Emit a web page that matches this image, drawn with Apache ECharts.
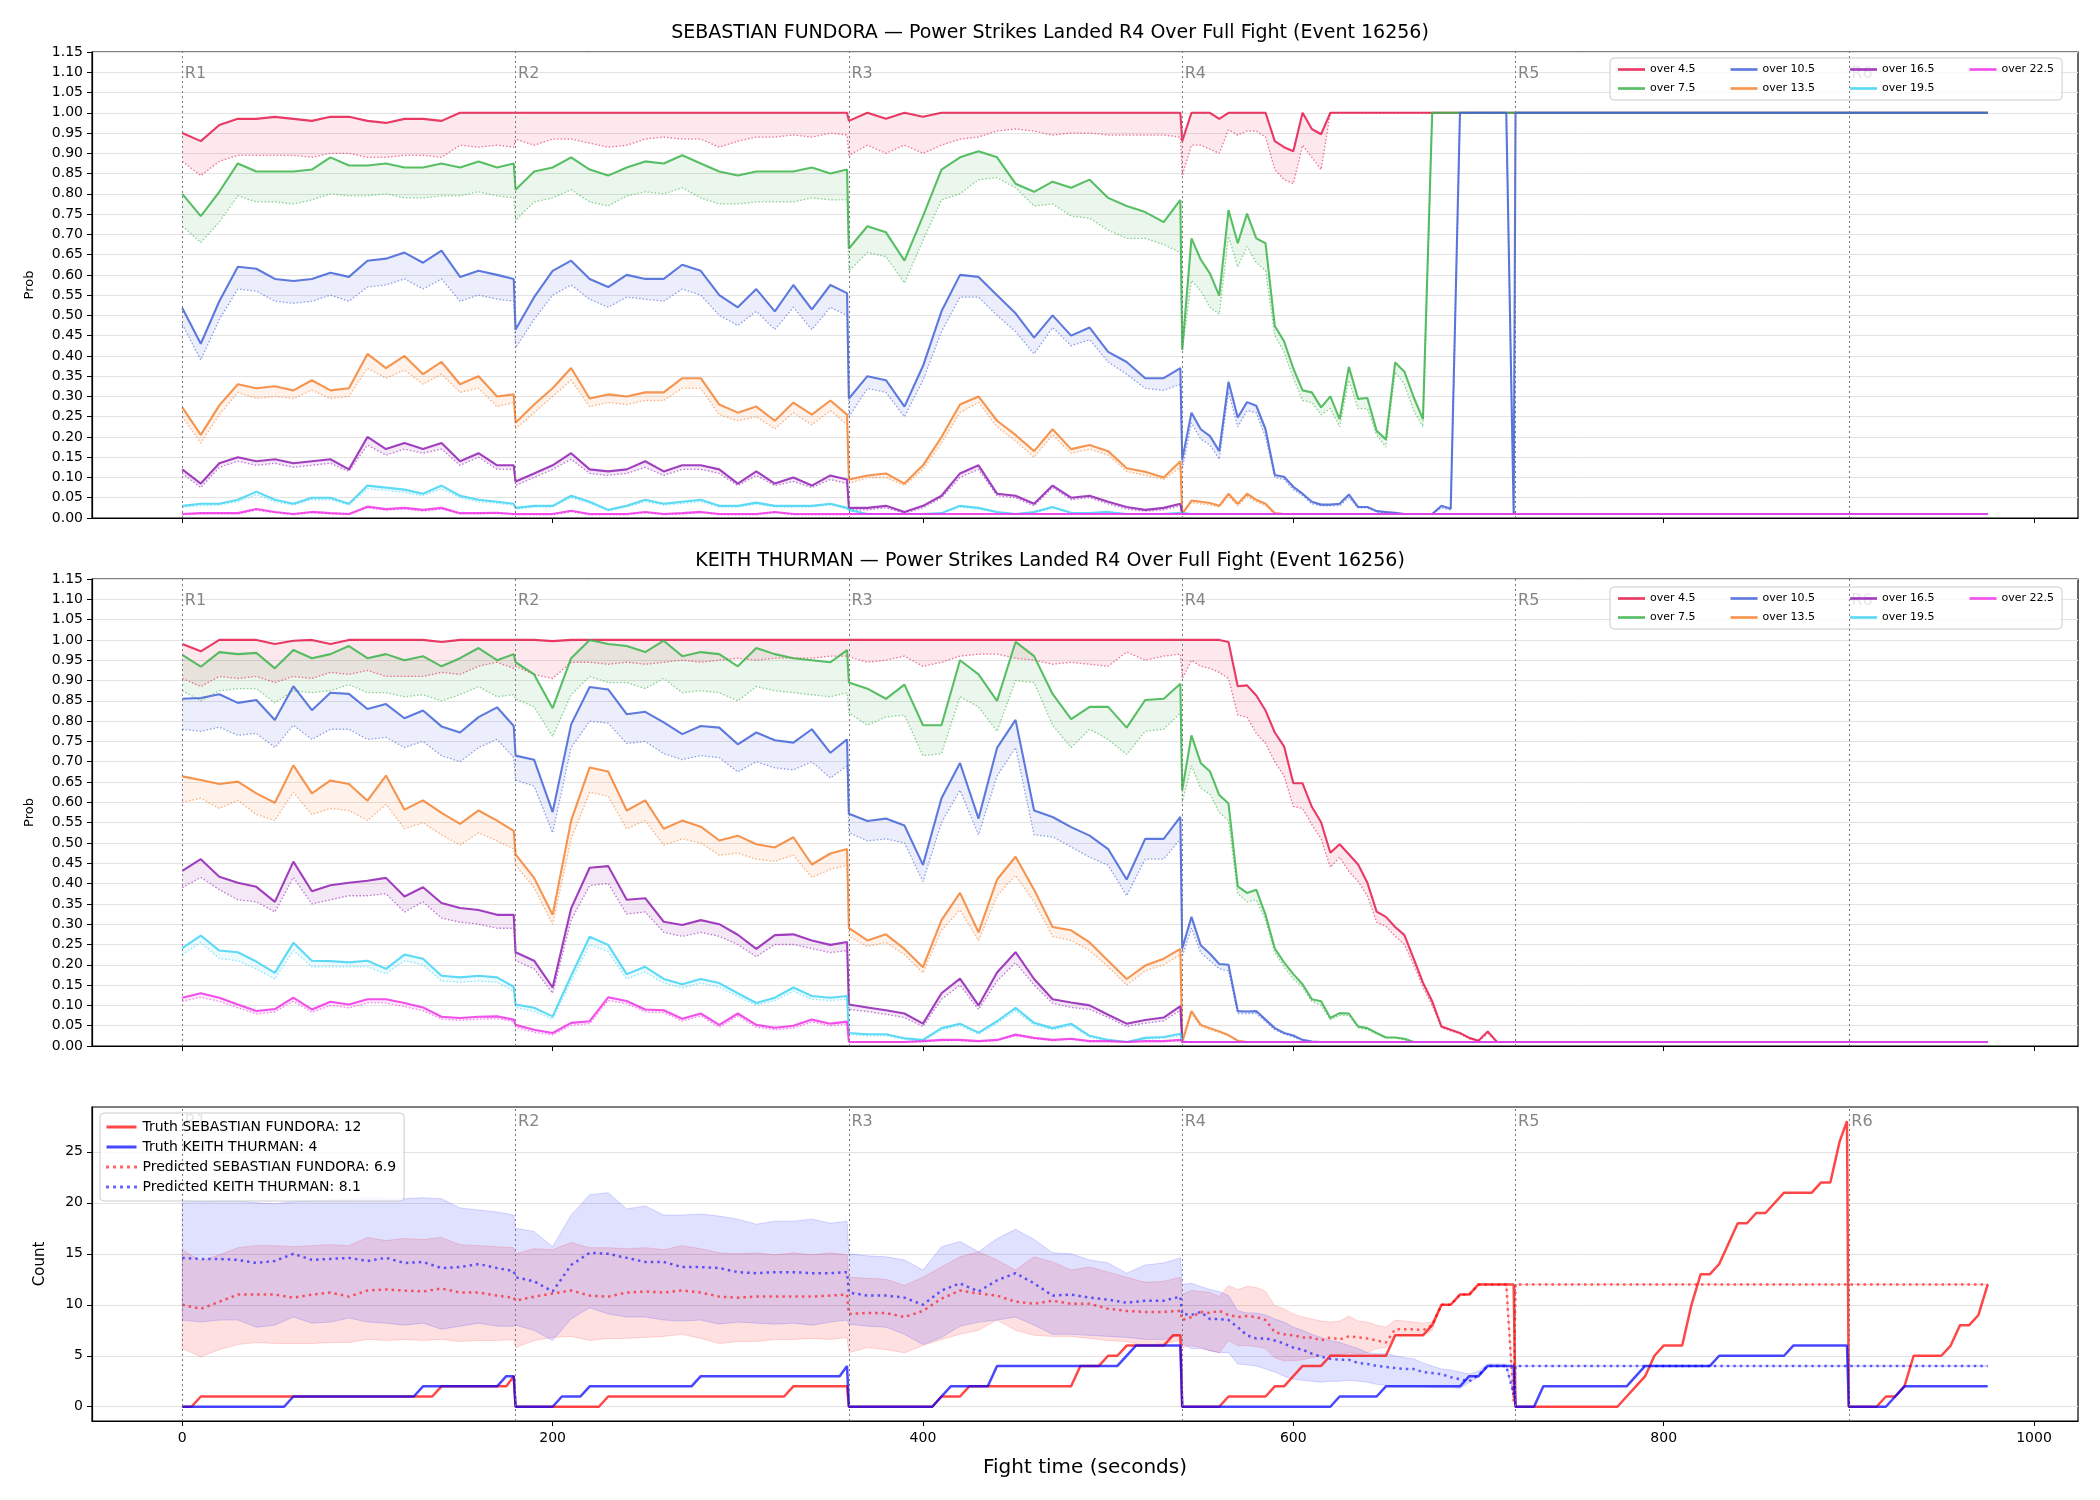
<!DOCTYPE html>
<html>
<head>
<meta charset="utf-8">
<title>Power Strikes Landed R4 Over Full Fight</title>
<script src="https://cdn.jsdelivr.net/npm/echarts@6/dist/echarts.min.js"></script>
<style>
html, body { margin: 0; padding: 0; background: #fff; }
#chart { width: 2100px; height: 1500px; }
</style>
</head>
<body>
<div id="chart"></div>
<script>
// sample times (s): 10 s steps in R1-R3, 5 s steps in R4, then the fixed tail
var times = [
  0,10,20,30,40,50,60,70,80,90,100,110,120,130,140,150,160,170,179,
  180,190,200,210,220,230,240,250,260,270,280,290,300,310,320,330,340,350,359,
  360,370,380,390,400,410,420,430,440,450,460,470,480,490,500,510,520,530,539,
  540,545,550,555,560,565,570,575,580,585,590,595,600,605,610,615,620,625,630,635,
  640,645,650,655,660,665,670,675,680,685,690,695,700,705,710,715,719,
  720,975
];
var rounds = [0, 180, 360, 540, 720, 900];
var roundNames = ['R1', 'R2', 'R3', 'R4', 'R5', 'R6'];
var thresholds = ['over 4.5', 'over 7.5', 'over 10.5', 'over 13.5', 'over 16.5', 'over 19.5', 'over 22.5'];
var colors = ['#e6194b', '#3cb44b', '#4363d8', '#f58231', '#911eb4', '#42d4f4', '#f032e6'];
var xTicks = [0, 200, 400, 600, 800, 1000];
var countTicks = [0, 5, 10, 15, 20, 25];

// ---- SEBASTIAN FUNDORA: probability (solid) and lower (dotted) per threshold ----
var f45 = [
  0.95,0.93,0.97,0.985,0.985,0.99,0.985,0.98,0.99,0.99,0.98,0.975,0.985,0.985,0.98,1,1,1,1,
  1,1,1,1,1,1,1,1,1,1,1,1,1,1,1,1,1,1,1,
  0.98,1,0.985,1,0.99,1,1,1,1,1,1,1,1,1,1,1,1,1,1,
  0.93,1,1,1,0.985,1,1,1,1,1,
  0.93,0.915,0.905,1,0.96,0.947,1,1,1,1,
  1,1,1,1,1,1,1,1,1,1,
  1,1,1,1,1,1,1,
  1,1];
var f45lo = [
  0.88,0.845,0.88,0.895,0.895,0.895,0.895,0.89,0.9,0.9,0.89,0.89,0.895,0.895,0.89,0.92,0.915,0.92,0.915,
  0.935,0.92,0.935,0.935,0.925,0.915,0.92,0.935,0.94,0.935,0.935,0.915,0.93,0.94,0.94,0.945,0.94,0.95,0.945,
  0.895,0.92,0.9,0.92,0.9,0.92,0.935,0.94,0.955,0.96,0.955,0.945,0.95,0.95,0.945,0.945,0.945,0.945,0.94,
  0.845,0.92,0.92,0.91,0.9,0.958,0.945,0.955,0.955,0.94,
  0.86,0.835,0.825,0.92,0.89,0.86,1,1,1,1,
  1,1,1,1,1,1,1,1,1,1,
  1,1,1,1,1,1,1,
  1,1];
var f75 = [
  0.80,0.745,0.805,0.875,0.855,0.855,0.855,0.86,0.89,0.87,0.87,0.875,0.865,0.865,0.875,0.865,0.88,0.865,0.875,
  0.81,0.855,0.865,0.89,0.86,0.845,0.865,0.88,0.875,0.895,0.875,0.855,0.845,0.855,0.855,0.855,0.865,0.85,0.86,
  0.665,0.72,0.705,0.635,0.745,0.86,0.89,0.905,0.89,0.825,0.805,0.83,0.815,0.835,0.79,0.77,0.755,0.73,0.785,
  0.415,0.69,0.638,0.603,0.549,0.76,0.678,0.751,0.69,0.678,
  0.474,0.436,0.369,0.315,0.31,0.273,0.30,0.244,0.373,0.294,
  0.296,0.215,0.194,0.384,0.361,0.298,0.244,1,1,1,
  1,1,1,1,1,1,1,
  1,1];
var f75lo = [
  0.72,0.68,0.73,0.795,0.78,0.78,0.775,0.785,0.80,0.795,0.795,0.80,0.79,0.79,0.795,0.795,0.805,0.795,0.79,
  0.735,0.78,0.79,0.81,0.78,0.77,0.795,0.805,0.80,0.815,0.79,0.775,0.775,0.78,0.78,0.78,0.79,0.785,0.785,
  0.61,0.655,0.645,0.58,0.685,0.785,0.80,0.835,0.84,0.815,0.77,0.775,0.745,0.74,0.71,0.69,0.69,0.675,0.655,
  0.415,0.586,0.56,0.52,0.503,0.695,0.62,0.67,0.63,0.61,
  0.45,0.41,0.345,0.29,0.285,0.255,0.27,0.225,0.34,0.27,
  0.27,0.205,0.175,0.36,0.33,0.265,0.225,1,1,1,
  1,1,1,1,1,1,1,
  1,1];
var f105 = [
  0.518,0.43,0.535,0.62,0.615,0.59,0.585,0.59,0.605,0.595,0.635,0.64,0.655,0.63,0.66,0.595,0.61,0.60,0.59,
  0.465,0.545,0.61,0.635,0.59,0.57,0.60,0.59,0.59,0.625,0.61,0.55,0.52,0.565,0.51,0.575,0.515,0.575,0.555,
  0.295,0.35,0.34,0.275,0.375,0.51,0.60,0.595,0.55,0.505,0.445,0.50,0.45,0.47,0.41,0.385,0.345,0.345,0.37,
  0.144,0.26,0.219,0.202,0.165,0.336,0.248,0.286,0.277,0.219,
  0.106,0.102,0.077,0.06,0.04,0.033,0.033,0.035,0.058,0.027,
  0.027,0.017,0.015,0.013,0.01,0.01,0.01,0.01,0.03,0.023,
  1,1,1,1,1,1,0.01,
  1,1];
var f105lo = [
  0.478,0.39,0.49,0.565,0.56,0.535,0.53,0.535,0.55,0.535,0.57,0.575,0.59,0.565,0.59,0.535,0.55,0.54,0.535,
  0.42,0.49,0.55,0.575,0.54,0.52,0.545,0.54,0.535,0.565,0.55,0.50,0.475,0.51,0.465,0.52,0.465,0.52,0.50,
  0.25,0.32,0.31,0.25,0.34,0.46,0.545,0.545,0.50,0.46,0.405,0.47,0.425,0.44,0.385,0.355,0.32,0.315,0.33,
  0.12,0.235,0.195,0.18,0.145,0.31,0.225,0.265,0.26,0.2,
  0.10,0.095,0.07,0.055,0.035,0.03,0.03,0.03,0.05,0.025,
  0.025,0.015,0.013,0.012,0.01,0.01,0.01,0.01,0.025,0.02,
  1,1,1,1,1,1,0.01,
  1,1];
var f135 = [
  0.273,0.205,0.278,0.33,0.32,0.325,0.315,0.34,0.315,0.32,0.405,0.37,0.40,0.355,0.385,0.33,0.35,0.30,0.305,
  0.235,0.28,0.32,0.37,0.295,0.305,0.30,0.31,0.31,0.345,0.345,0.28,0.26,0.275,0.24,0.285,0.255,0.29,0.255,
  0.095,0.105,0.11,0.085,0.13,0.20,0.28,0.30,0.24,0.205,0.165,0.219,0.17,0.18,0.165,0.123,0.114,0.10,0.14,
  0.01,0.043,0.04,0.037,0.03,0.06,0.035,0.06,0.045,0.035,
  0.012,0.01,0.01,0.01,0.01,0.01,0.01,0.01,0.01,0.01,
  0.01,0.01,0.01,0.01,0.01,0.01,0.01,0.01,0.01,0.01,
  0.01,0.01,0.01,0.01,0.01,0.01,0.01,
  0.01,0.01];
var f135lo = [
  0.25,0.185,0.255,0.31,0.295,0.30,0.295,0.315,0.295,0.30,0.37,0.345,0.365,0.33,0.355,0.31,0.32,0.275,0.285,
  0.22,0.26,0.30,0.34,0.275,0.285,0.28,0.29,0.29,0.32,0.32,0.255,0.24,0.25,0.22,0.26,0.23,0.265,0.23,
  0.085,0.10,0.10,0.08,0.12,0.185,0.26,0.285,0.225,0.19,0.15,0.205,0.16,0.17,0.155,0.115,0.105,0.095,0.125,
  0.01,0.038,0.035,0.032,0.027,0.053,0.03,0.053,0.04,0.03,
  0.01,0.01,0.01,0.01,0.01,0.01,0.01,0.01,0.01,0.01,
  0.01,0.01,0.01,0.01,0.01,0.01,0.01,0.01,0.01,0.01,
  0.01,0.01,0.01,0.01,0.01,0.01,0.01,
  0.01,0.01];
var f165 = [
  0.12,0.085,0.135,0.15,0.14,0.145,0.135,0.14,0.145,0.12,0.20,0.17,0.185,0.17,0.185,0.14,0.16,0.13,0.13,
  0.09,0.11,0.13,0.16,0.12,0.115,0.12,0.14,0.115,0.13,0.13,0.12,0.085,0.115,0.085,0.10,0.08,0.105,0.095,
  0.025,0.025,0.03,0.015,0.03,0.055,0.11,0.13,0.06,0.055,0.035,0.08,0.05,0.055,0.04,0.027,0.02,0.025,0.035,
  0.01,0.01,0.01,0.01,0.01,0.01,0.01,0.01,0.01,0.01,
  0.01,0.01,0.01,0.01,0.01,0.01,0.01,0.01,0.01,0.01,
  0.01,0.01,0.01,0.01,0.01,0.01,0.01,0.01,0.01,0.01,
  0.01,0.01,0.01,0.01,0.01,0.01,0.01,
  0.01,0.01];
var f165lo = [
  0.11,0.075,0.125,0.14,0.13,0.135,0.125,0.13,0.135,0.115,0.18,0.155,0.17,0.16,0.17,0.13,0.15,0.12,0.12,
  0.08,0.10,0.12,0.145,0.11,0.105,0.11,0.125,0.105,0.12,0.12,0.11,0.08,0.105,0.08,0.09,0.075,0.095,0.085,
  0.02,0.02,0.025,0.012,0.025,0.05,0.10,0.12,0.055,0.05,0.03,0.075,0.045,0.05,0.035,0.022,0.017,0.02,0.03,
  0.01,0.01,0.01,0.01,0.01,0.01,0.01,0.01,0.01,0.01,
  0.01,0.01,0.01,0.01,0.01,0.01,0.01,0.01,0.01,0.01,
  0.01,0.01,0.01,0.01,0.01,0.01,0.01,0.01,0.01,0.01,
  0.01,0.01,0.01,0.01,0.01,0.01,0.01,
  0.01,0.01];
var f195 = [
  0.03,0.035,0.035,0.045,0.065,0.045,0.035,0.05,0.05,0.035,0.08,0.075,0.07,0.06,0.08,0.055,0.045,0.04,0.035,
  0.025,0.03,0.03,0.055,0.04,0.02,0.03,0.045,0.035,0.04,0.045,0.03,0.03,0.038,0.03,0.03,0.03,0.035,0.025,
  0.02,0.01,0.01,0.01,0.01,0.012,0.03,0.025,0.015,0.01,0.015,0.027,0.013,0.012,0.015,0.01,0.01,0.01,0.013,
  0.01,0.01,0.01,0.01,0.01,0.01,0.01,0.01,0.01,0.01,
  0.01,0.01,0.01,0.01,0.01,0.01,0.01,0.01,0.01,0.01,
  0.01,0.01,0.01,0.01,0.01,0.01,0.01,0.01,0.01,0.01,
  0.01,0.01,0.01,0.01,0.01,0.01,0.01,
  0.01,0.01];
var f195lo = [
  0.027,0.03,0.032,0.04,0.058,0.04,0.032,0.045,0.045,0.032,0.072,0.068,0.063,0.055,0.072,0.05,0.04,0.036,0.032,
  0.022,0.027,0.027,0.05,0.036,0.018,0.027,0.04,0.032,0.036,0.04,0.027,0.027,0.034,0.027,0.027,0.027,0.032,0.022,
  0.018,0.01,0.01,0.01,0.01,0.011,0.027,0.022,0.013,0.01,0.013,0.024,0.012,0.011,0.013,0.01,0.01,0.01,0.012,
  0.01,0.01,0.01,0.01,0.01,0.01,0.01,0.01,0.01,0.01,
  0.01,0.01,0.01,0.01,0.01,0.01,0.01,0.01,0.01,0.01,
  0.01,0.01,0.01,0.01,0.01,0.01,0.01,0.01,0.01,0.01,
  0.01,0.01,0.01,0.01,0.01,0.01,0.01,
  0.01,0.01];
var f225 = [
  0.01,0.012,0.012,0.012,0.022,0.015,0.01,0.015,0.012,0.01,0.028,0.022,0.025,0.02,0.025,0.012,0.012,0.013,0.01,
  0.01,0.01,0.01,0.018,0.01,0.01,0.01,0.015,0.01,0.012,0.015,0.01,0.01,0.01,0.015,0.01,0.01,0.01,0.01,
  0.01,0.01,0.01,0.01,0.01,0.01,0.01,0.01,0.01,0.01,0.01,0.01,0.01,0.01,0.01,0.01,0.01,0.01,0.01,
  0.01,0.01,0.01,0.01,0.01,0.01,0.01,0.01,0.01,0.01,
  0.01,0.01,0.01,0.01,0.01,0.01,0.01,0.01,0.01,0.01,
  0.01,0.01,0.01,0.01,0.01,0.01,0.01,0.01,0.01,0.01,
  0.01,0.01,0.01,0.01,0.01,0.01,0.01,
  0.01,0.01];
var f225lo = [
  0.008,0.01,0.01,0.01,0.019,0.013,0.008,0.013,0.01,0.008,0.025,0.019,0.022,0.017,0.022,0.01,0.01,0.011,0.008,
  0.008,0.008,0.008,0.015,0.008,0.008,0.008,0.013,0.008,0.01,0.013,0.008,0.008,0.008,0.013,0.008,0.008,0.008,0.008,
  0.01,0.01,0.01,0.01,0.01,0.01,0.01,0.01,0.01,0.01,0.01,0.01,0.01,0.01,0.01,0.01,0.01,0.01,0.01,
  0.01,0.01,0.01,0.01,0.01,0.01,0.01,0.01,0.01,0.01,
  0.01,0.01,0.01,0.01,0.01,0.01,0.01,0.01,0.01,0.01,
  0.01,0.01,0.01,0.01,0.01,0.01,0.01,0.01,0.01,0.01,
  0.01,0.01,0.01,0.01,0.01,0.01,0.01,
  0.01,0.01];

// ---- KEITH THURMAN ----
var t45 = [
  0.99,0.972,1,1,1,0.99,0.998,1,0.99,1,1,1,1,1,0.995,1,1,1,1,
  1,1,0.997,1,1,1,1,1,1,1,1,1,1,1,1,1,1,1,1,
  1,1,1,1,1,1,1,1,1,1,1,1,1,1,1,1,1,1,1,
  1,1,1,1,1,0.995,0.886,0.888,0.863,0.826,
  0.772,0.738,0.647,0.647,0.589,0.551,0.476,0.497,0.472,0.447,
  0.402,0.331,0.318,0.293,0.273,0.215,0.156,0.11,0.048,0.04,
  0.032,0.02,0.013,0.036,0.01,0.01,0.01,
  0.01,0.01];
var t45lo = [
  0.905,0.885,0.91,0.905,0.91,0.895,0.91,0.905,0.92,0.915,0.925,0.91,0.91,0.91,0.92,0.915,0.935,0.945,0.93,
  0.935,0.915,0.905,0.945,0.945,0.94,0.945,0.94,0.945,0.95,0.945,0.95,0.955,0.95,0.955,0.955,0.955,0.96,0.96,
  0.96,0.945,0.95,0.96,0.935,0.945,0.96,0.965,0.965,0.955,0.95,0.94,0.945,0.94,0.935,0.97,0.95,0.96,0.965,
  0.905,0.95,0.935,0.93,0.92,0.905,0.815,0.81,0.77,0.745,
  0.70,0.665,0.59,0.585,0.545,0.51,0.44,0.465,0.43,0.405,
  0.37,0.305,0.295,0.27,0.25,0.2,0.145,0.10,0.045,0.037,
  0.03,0.018,0.012,0.03,0.01,0.01,0.01,
  0.01,0.01];
var t75 = [
  0.963,0.934,0.97,0.965,0.968,0.93,0.975,0.955,0.965,0.985,0.955,0.965,0.95,0.96,0.935,0.955,0.98,0.95,0.965,
  0.945,0.915,0.832,0.955,1.0,0.99,0.985,0.97,0.998,0.96,0.97,0.965,0.935,0.98,0.965,0.955,0.95,0.945,0.975,
  0.895,0.88,0.855,0.89,0.79,0.79,0.95,0.915,0.85,0.995,0.96,0.867,0.805,0.835,0.835,0.784,0.852,0.855,0.892,
  0.63,0.765,0.697,0.676,0.618,0.597,0.393,0.377,0.385,0.323,
  0.24,0.206,0.177,0.152,0.115,0.11,0.069,0.081,0.08,0.048,
  0.044,0.032,0.021,0.021,0.018,0.01,0.01,0.01,0.01,0.01,
  0.01,0.01,0.01,0.01,0.01,0.01,0.01,
  0.01,0.01];
var t75lo = [
  0.875,0.85,0.875,0.88,0.88,0.845,0.875,0.87,0.875,0.89,0.87,0.87,0.86,0.865,0.85,0.865,0.885,0.86,0.865,
  0.855,0.835,0.762,0.865,0.91,0.895,0.895,0.88,0.905,0.87,0.875,0.87,0.85,0.885,0.875,0.87,0.865,0.86,0.87,
  0.82,0.79,0.81,0.815,0.715,0.72,0.86,0.835,0.775,0.9,0.895,0.79,0.735,0.78,0.755,0.718,0.775,0.78,0.82,
  0.6,0.69,0.635,0.62,0.575,0.555,0.375,0.355,0.36,0.31,
  0.23,0.195,0.165,0.145,0.11,0.10,0.065,0.075,0.075,0.045,
  0.04,0.03,0.02,0.02,0.015,0.01,0.01,0.01,0.01,0.01,
  0.01,0.01,0.01,0.01,0.01,0.01,0.01,
  0.01,0.01];
var t105 = [
  0.855,0.857,0.866,0.845,0.852,0.803,0.886,0.827,0.87,0.867,0.83,0.842,0.807,0.826,0.787,0.772,0.81,0.834,0.788,
  0.715,0.705,0.576,0.792,0.884,0.878,0.817,0.823,0.797,0.768,0.788,0.784,0.743,0.772,0.753,0.747,0.78,0.722,0.755,
  0.572,0.554,0.56,0.543,0.446,0.61,0.697,0.56,0.734,0.803,0.58,0.564,0.539,0.518,0.485,0.41,0.51,0.51,0.564,
  0.24,0.318,0.248,0.227,0.202,0.2,0.086,0.085,0.086,0.065,
  0.044,0.032,0.026,0.015,0.011,0.01,0.01,0.01,0.01,0.01,
  0.01,0.01,0.01,0.01,0.01,0.01,0.01,0.01,0.01,0.01,
  0.01,0.01,0.01,0.01,0.01,0.01,0.01,
  0.01,0.01];
var t105lo = [
  0.78,0.775,0.785,0.765,0.77,0.735,0.79,0.755,0.78,0.78,0.755,0.76,0.735,0.75,0.715,0.70,0.735,0.755,0.71,
  0.655,0.64,0.525,0.735,0.80,0.795,0.745,0.75,0.72,0.705,0.715,0.71,0.675,0.70,0.685,0.68,0.70,0.66,0.69,
  0.525,0.505,0.51,0.50,0.405,0.55,0.63,0.52,0.665,0.735,0.52,0.515,0.49,0.465,0.445,0.37,0.46,0.46,0.51,
  0.22,0.29,0.23,0.21,0.19,0.185,0.08,0.08,0.08,0.06,
  0.04,0.03,0.022,0.013,0.01,0.01,0.01,0.01,0.01,0.01,
  0.01,0.01,0.01,0.01,0.01,0.01,0.01,0.01,0.01,0.01,
  0.01,0.01,0.01,0.01,0.01,0.01,0.01,
  0.01,0.01];
var t135 = [
  0.664,0.655,0.645,0.651,0.622,0.599,0.691,0.622,0.654,0.645,0.604,0.666,0.582,0.605,0.574,0.547,0.58,0.555,0.53,
  0.472,0.414,0.323,0.555,0.686,0.676,0.58,0.605,0.535,0.555,0.54,0.506,0.518,0.497,0.489,0.514,0.447,0.474,0.485,
  0.291,0.26,0.275,0.239,0.194,0.31,0.377,0.28,0.41,0.466,0.385,0.293,0.285,0.255,0.21,0.165,0.198,0.215,0.239,
  0.01,0.086,0.052,0.044,0.036,0.027,0.013,0.01,0.01,0.01,
  0.01,0.01,0.01,0.01,0.01,0.01,0.01,0.01,0.01,0.01,
  0.01,0.01,0.01,0.01,0.01,0.01,0.01,0.01,0.01,0.01,
  0.01,0.01,0.01,0.01,0.01,0.01,0.01,
  0.01,0.01];
var t135lo = [
  0.60,0.61,0.585,0.605,0.57,0.555,0.625,0.57,0.585,0.58,0.555,0.595,0.535,0.55,0.52,0.495,0.525,0.505,0.485,
  0.445,0.39,0.30,0.51,0.625,0.615,0.535,0.555,0.495,0.51,0.50,0.47,0.475,0.46,0.455,0.47,0.415,0.435,0.445,
  0.27,0.245,0.255,0.225,0.18,0.285,0.335,0.26,0.37,0.42,0.355,0.27,0.26,0.235,0.195,0.15,0.185,0.20,0.225,
  0.01,0.08,0.048,0.04,0.033,0.025,0.012,0.01,0.01,0.01,
  0.01,0.01,0.01,0.01,0.01,0.01,0.01,0.01,0.01,0.01,
  0.01,0.01,0.01,0.01,0.01,0.01,0.01,0.01,0.01,0.01,
  0.01,0.01,0.01,0.01,0.01,0.01,0.01,
  0.01,0.01];
var t165 = [
  0.431,0.46,0.417,0.402,0.392,0.355,0.454,0.381,0.396,0.402,0.407,0.414,0.368,0.391,0.352,0.34,0.335,0.323,0.323,
  0.231,0.21,0.144,0.339,0.439,0.443,0.36,0.364,0.306,0.298,0.31,0.30,0.274,0.239,0.273,0.275,0.26,0.249,0.256,
  0.102,0.095,0.088,0.08,0.055,0.13,0.166,0.10,0.181,0.231,0.165,0.115,0.107,0.10,0.077,0.055,0.064,0.07,0.098,
  0.01,0.01,0.01,0.01,0.01,0.01,0.01,0.01,0.01,0.01,
  0.01,0.01,0.01,0.01,0.01,0.01,0.01,0.01,0.01,0.01,
  0.01,0.01,0.01,0.01,0.01,0.01,0.01,0.01,0.01,0.01,
  0.01,0.01,0.01,0.01,0.01,0.01,0.01,
  0.01,0.01];
var t165lo = [
  0.39,0.415,0.385,0.36,0.355,0.33,0.415,0.35,0.36,0.37,0.37,0.375,0.33,0.355,0.315,0.305,0.30,0.29,0.29,
  0.21,0.19,0.13,0.31,0.395,0.40,0.325,0.33,0.28,0.27,0.28,0.27,0.25,0.22,0.25,0.25,0.24,0.23,0.235,
  0.09,0.085,0.078,0.07,0.048,0.115,0.15,0.09,0.16,0.205,0.15,0.105,0.095,0.09,0.07,0.048,0.056,0.062,0.088,
  0.01,0.01,0.01,0.01,0.01,0.01,0.01,0.01,0.01,0.01,
  0.01,0.01,0.01,0.01,0.01,0.01,0.01,0.01,0.01,0.01,
  0.01,0.01,0.01,0.01,0.01,0.01,0.01,0.01,0.01,0.01,
  0.01,0.01,0.01,0.01,0.01,0.01,0.01,
  0.01,0.01];
var t195 = [
  0.241,0.272,0.235,0.231,0.208,0.18,0.254,0.21,0.209,0.206,0.21,0.19,0.225,0.215,0.173,0.169,0.173,0.169,0.146,
  0.102,0.094,0.073,0.173,0.269,0.249,0.177,0.195,0.165,0.152,0.165,0.155,0.13,0.106,0.119,0.144,0.123,0.119,0.123,
  0.032,0.029,0.029,0.019,0.015,0.044,0.055,0.033,0.061,0.094,0.057,0.044,0.055,0.025,0.015,0.01,0.02,0.022,0.03,
  0.01,0.01,0.01,0.01,0.01,0.01,0.01,0.01,0.01,0.01,
  0.01,0.01,0.01,0.01,0.01,0.01,0.01,0.01,0.01,0.01,
  0.01,0.01,0.01,0.01,0.01,0.01,0.01,0.01,0.01,0.01,
  0.01,0.01,0.01,0.01,0.01,0.01,0.01,
  0.01,0.01];
var t195lo = [
  0.225,0.255,0.215,0.21,0.19,0.165,0.235,0.195,0.195,0.195,0.195,0.178,0.21,0.20,0.16,0.157,0.16,0.157,0.135,
  0.095,0.085,0.066,0.16,0.25,0.232,0.165,0.182,0.155,0.143,0.155,0.145,0.122,0.10,0.112,0.135,0.115,0.112,0.115,
  0.028,0.025,0.025,0.016,0.012,0.04,0.05,0.029,0.056,0.087,0.052,0.04,0.05,0.022,0.012,0.01,0.017,0.019,0.026,
  0.01,0.01,0.01,0.01,0.01,0.01,0.01,0.01,0.01,0.01,
  0.01,0.01,0.01,0.01,0.01,0.01,0.01,0.01,0.01,0.01,
  0.01,0.01,0.01,0.01,0.01,0.01,0.01,0.01,0.01,0.01,
  0.01,0.01,0.01,0.01,0.01,0.01,0.01,
  0.01,0.01];
var t225 = [
  0.119,0.13,0.119,0.102,0.086,0.091,0.119,0.09,0.109,0.102,0.115,0.115,0.106,0.095,0.072,0.069,0.072,0.073,0.065,
  0.052,0.04,0.032,0.057,0.061,0.12,0.111,0.09,0.088,0.067,0.08,0.052,0.08,0.052,0.045,0.05,0.065,0.055,0.06,
  0.01,0.01,0.01,0.01,0.012,0.015,0.015,0.012,0.015,0.028,0.02,0.015,0.018,0.012,0.012,0.01,0.012,0.012,0.015,
  0.01,0.01,0.01,0.01,0.01,0.01,0.01,0.01,0.01,0.01,
  0.01,0.01,0.01,0.01,0.01,0.01,0.01,0.01,0.01,0.01,
  0.01,0.01,0.01,0.01,0.01,0.01,0.01,0.01,0.01,0.01,
  0.01,0.01,0.01,0.01,0.01,0.01,0.01,
  0.01,0.01];
var t225lo = [
  0.11,0.12,0.11,0.094,0.079,0.084,0.11,0.083,0.10,0.094,0.106,0.106,0.097,0.087,0.066,0.063,0.066,0.067,0.06,
  0.046,0.034,0.027,0.051,0.055,0.112,0.104,0.084,0.082,0.061,0.074,0.046,0.074,0.046,0.04,0.044,0.059,0.049,0.054,
  0.01,0.01,0.01,0.01,0.011,0.013,0.013,0.011,0.013,0.025,0.018,0.013,0.016,0.011,0.011,0.01,0.011,0.011,0.013,
  0.01,0.01,0.01,0.01,0.01,0.01,0.01,0.01,0.01,0.01,
  0.01,0.01,0.01,0.01,0.01,0.01,0.01,0.01,0.01,0.01,
  0.01,0.01,0.01,0.01,0.01,0.01,0.01,0.01,0.01,0.01,
  0.01,0.01,0.01,0.01,0.01,0.01,0.01,
  0.01,0.01];

// ---- count panel: predicted means and bands (same times) ----
var predFundora = [
  10.0,9.6,10.3,11.0,11.0,11.0,10.7,11.0,11.2,10.8,11.4,11.5,11.4,11.3,11.6,11.2,11.2,10.9,10.7,
  10.4,10.8,11.1,11.4,10.9,10.8,11.2,11.3,11.2,11.4,11.2,10.8,10.7,10.8,10.8,10.8,10.8,10.9,11.0,
  9.1,9.2,9.2,8.8,9.4,10.6,11.4,11.1,10.9,10.3,10.1,10.4,10.1,10.1,9.6,9.4,9.3,9.3,9.4,
  8.5,8.8,9.3,9.2,9.4,9.0,8.8,8.9,8.8,8.5,
  7.3,7.1,7.0,6.8,6.8,6.5,6.8,6.6,6.9,6.8,
  6.7,6.5,6.3,7.6,7.6,7.6,7.5,8.0,10.0,10.0,
  11.0,11.0,12.0,12.0,12.0,12.0,0.5,
  12,12];
var predThurman = [
  14.6,14.5,14.5,14.4,14.1,14.3,15.0,14.4,14.5,14.6,14.3,14.6,14.1,14.2,13.6,13.7,14.0,13.6,13.3,
  12.7,12.3,11.3,13.9,15.1,15.0,14.6,14.2,14.2,13.7,13.7,13.6,13.2,13.1,13.2,13.2,13.1,13.1,13.2,
  11.2,10.9,10.9,10.7,10.0,11.4,12.1,11.3,12.4,13.1,12.1,10.9,11.0,10.7,10.5,10.2,10.4,10.4,10.8,
  9.1,9.0,9.3,8.6,8.6,8.5,7.8,7.0,6.7,6.7,
  6.5,6.2,5.8,5.6,5.2,4.9,4.7,4.6,4.6,4.3,
  4.2,4.0,3.9,3.8,3.7,3.7,3.4,3.3,3.2,2.9,
  2.7,2.5,3.1,4.0,4.0,4.0,1.2,
  4,4];
var fundoraHi = [
  15.4,14.3,14.9,15.6,15.8,15.8,15.7,15.8,15.9,15.8,16.6,16.3,16.5,16.4,16.6,15.9,15.8,15.7,15.6,
  15.0,15.5,15.4,16.1,15.6,15.6,15.5,15.6,15.4,15.8,15.5,15.1,15.0,15.1,14.9,15.1,14.9,15.1,14.9,
  12.7,12.6,12.5,11.9,12.7,13.7,14.7,15.2,14.4,13.4,14.7,14.2,13.4,13.7,13.2,12.7,12.2,12.3,12.7,
  11.0,11.4,11.3,11.2,10.8,11.9,11.5,11.8,11.7,11.3,
  9.9,9.6,9.1,8.8,8.6,8.4,8.3,8.4,8.9,8.4,
  8.3,8.0,7.8,8.5,8.4,8.3,8.2,8.3,10.0,10.0,
  11.0,11.0,12.0,12.0,12.0,12.0,0.5,
  12,12];
var fundoraLo = [
  5.7,4.9,5.6,6.1,6.3,6.2,6.2,6.2,6.3,6.3,6.6,6.5,6.6,6.5,6.6,6.4,6.5,6.5,6.6,
  5.8,6.5,6.8,6.9,6.5,6.7,6.7,6.8,6.9,7.1,6.7,6.2,6.4,6.4,6.6,6.6,6.7,6.6,6.8,
  5.3,5.8,5.6,5.3,6.0,6.6,7.1,7.5,8.5,7.5,7.0,6.9,6.9,6.7,6.5,6.4,6.0,6.2,6.5,
  5.8,6.0,5.8,5.5,5.3,6.5,6.0,6.0,5.9,5.7,
  4.8,4.5,4.5,4.6,4.8,5.0,5.1,5.1,5.3,5.2,
  5.3,5.7,5.8,7.0,7.0,7.0,7.0,7.5,10.0,10.0,
  11.0,11.0,12.0,12.0,12.0,12.0,0.5,
  12,12];
var thurmanHi = [
  20.3,20.1,20.2,20.2,20.0,19.9,20.1,20.2,20.3,20.3,20.5,20.4,20.4,20.5,20.4,19.5,19.3,19.1,18.8,
  17.5,17.2,15.7,18.8,20.8,21.0,19.4,19.7,18.8,18.8,18.9,18.7,18.4,17.9,18.2,18.2,18.4,18.0,18.2,
  15.0,14.8,14.7,14.4,13.4,15.7,16.2,15.2,16.5,17.4,16.4,15.1,15.0,14.4,14.1,13.1,13.9,14.1,14.6,
  12.0,12.1,11.8,11.5,11.3,10.9,9.4,9.2,9.2,9.0,
  8.6,8.3,7.8,7.5,7.1,6.8,6.5,6.3,6.0,5.7,
  5.3,5.2,5.2,5.0,4.8,4.7,4.3,4.0,3.7,3.6,
  3.4,3.2,3.5,4.2,4.2,4.2,1.2,
  4,4];
var thurmanLo = [
  8.5,8.3,8.5,8.5,7.8,8.0,8.8,8.2,8.3,8.7,8.3,8.2,8.0,8.2,7.6,7.9,8.2,7.9,7.9,
  8.0,7.5,6.5,8.6,9.7,9.1,8.8,8.8,8.5,8.4,8.5,8.1,8.3,8.2,8.1,8.2,8.0,8.3,8.5,
  8.1,7.9,7.8,7.1,6.1,6.8,7.9,8.3,8.5,8.8,8.0,7.1,7.1,7.0,6.9,6.8,6.6,6.6,7.0,
  6.2,5.7,5.7,5.5,5.3,5.3,4.2,4.1,4.0,3.7,
  3.4,3.0,2.7,2.6,2.5,2.4,2.5,2.5,2.6,2.5,
  2.4,2.2,2.1,2.0,2.0,2.0,1.95,1.9,1.9,1.9,
  1.8,2.4,2.9,4.0,4.0,4.0,1.2,
  4,4];

// truth running counts, [time, count] at the change points
var truthFundora = [
  [0,0],[5,0],[10,1],[135,1],[140,2],[175,2],[179,3],
  [180,0],[225,0],[230,1],[325,1],[330,2],[359,2],
  [360,0],[405,0],[410,1],[420,1],[425,2],[480,2],[485,4],[495,4],[500,5],[505,5],[510,6],[530,6],[535,7],[539,7],
  [540,0],[560,0],[565,1],[585,1],[590,2],[595,2],[605,4],[615,4],[620,5],[650,5],[655,7],[670,7],[675,8],[680,10],
  [685,10],[690,11],[695,11],[700,12],[719,12],
  [720,0],[775,0],[780,1],[785,2],[790,3],[795,5],[800,6],[810,6],[815,10],[820,13],[825,13],[830,14],[840,18],
  [845,18],[850,19],[855,19],[865,21],[880,21],[885,22],[890,22],[895,26],[899,28],
  [900,0],[915,0],[920,1],[925,1],[930,2],[935,5],[950,5],[955,6],[960,8],[965,8],[970,9],[975,12]
];
var truthThurman = [
  [0,0],[55,0],[60,1],[125,1],[130,2],[170,2],[175,3],[179,3],
  [180,0],[200,0],[205,1],[215,1],[220,2],[275,2],[280,3],[355,3],[359,4],
  [360,0],[405,0],[410,1],[415,2],[435,2],[440,4],[505,4],[515,6],[539,6],
  [540,0],[620,0],[625,1],[645,1],[650,2],[690,2],[695,3],[700,3],[705,4],[719,4],
  [720,0],[730,0],[735,2],[780,2],[790,4],[825,4],[830,5],[865,5],[870,6],[899,6],
  [900,0],[920,0],[930,2],[975,2]
];
var countNames = ['Truth SEBASTIAN FUNDORA: 12', 'Truth KEITH THURMAN: 4',
                  'Predicted SEBASTIAN FUNDORA: 6.9', 'Predicted KEITH THURMAN: 8.1'];

var fundoraProb = [f45, f75, f105, f135, f165, f195, f225];
var fundoraLower = [f45lo, f75lo, f105lo, f135lo, f165lo, f195lo, f225lo];
var thurmanProb = [t45, t75, t105, t135, t165, t195, t225];
var thurmanLower = [t45lo, t75lo, t105lo, t135lo, t165lo, t195lo, t225lo];

// legend handles: a plain bar and a dotted bar
var solidIcon = 'path://M0,0H30V3H0Z';
var dotIcon = 'path://M0,0H3V3H0Z M7,0H10V3H7Z M14,0H17V3H14Z M21,0H24V3H21Z M28,0H31V3H28Z';

function pairs(arr) {
  return times.map(function (t, i) { return [t, arr[i]]; });
}

function rgba(hex, a) {
  var n = parseInt(hex.slice(1), 16);
  return 'rgba(' + (n >> 16) + ',' + ((n >> 8) & 255) + ',' + (n & 255) + ',' + a + ')';
}

// filled area between an upper and a lower curve
function band(g, hi, lo, fill, stroke) {
  return {
    type: 'custom', xAxisIndex: g, yAxisIndex: g, silent: true,
    data: [[times[0], lo[0]]],
    encode: { x: 0, y: 1 },
    renderItem: function (params, api) {
      var pts = [];
      for (var i = 0; i < times.length; i++) pts.push(api.coord([times[i], hi[i]]));
      for (var j = times.length - 1; j >= 0; j--) pts.push(api.coord([times[j], lo[j]]));
      return {
        type: 'polygon', shape: { points: pts },
        style: { fill: fill, stroke: stroke || 'none', lineWidth: 1 }
      };
    }
  };
}

function roundMarks(g, labelY) {
  return {
    type: 'scatter', xAxisIndex: g, yAxisIndex: g, silent: true,
    symbolSize: 1, itemStyle: { color: 'rgba(0,0,0,0)' },
    data: rounds.map(function (r) { return [r, labelY]; }),
    label: {
      show: true, position: 'right', distance: 2, color: '#666', fontSize: 16,
      formatter: function (p) { return roundNames[p.dataIndex]; }
    },
    markLine: {
      silent: true, symbol: ['none', 'none'], label: { show: false },
      lineStyle: { color: '#777', width: 1, type: [2, 3] },
      data: rounds.map(function (r) { return { xAxis: r }; })
    }
  };
}

function probSeries(g, probs, lowers) {
  var out = [];
  thresholds.forEach(function (name, k) {
    var c = colors[k];
    out.push(band(g, probs[k], lowers[k], rgba(c, 0.1), null));
    out.push({
      type: 'line', name: name + ' (low)', xAxisIndex: g, yAxisIndex: g,
      data: pairs(lowers[k]), symbol: 'none', silent: true,
      lineStyle: { color: c, width: 1.3, type: [1.5, 2], opacity: 0.6 }, itemStyle: { color: c }
    });
    out.push({
      type: 'line', name: name, xAxisIndex: g, yAxisIndex: g,
      data: pairs(probs[k]), symbol: 'none', silent: true,
      lineStyle: { color: c, width: 2.1, opacity: 0.85 }, itemStyle: { color: rgba(c, 0.85) }
    });
  });
  return out;
}

var series = [].concat(
  [roundMarks(0, 1.095)], probSeries(0, fundoraProb, fundoraLower),
  [roundMarks(1, 1.095)], probSeries(1, thurmanProb, thurmanLower),
  [
    roundMarks(2, 27.9),
    band(2, fundoraHi, fundoraLo, 'rgba(255,0,0,0.12)', 'rgba(255,0,0,0.15)'),
    band(2, thurmanHi, thurmanLo, 'rgba(0,0,255,0.12)', 'rgba(0,0,255,0.15)'),
    {
      type: 'line', name: countNames[2], xAxisIndex: 2, yAxisIndex: 2, data: pairs(predFundora),
      symbol: 'none', silent: true, itemStyle: { color: 'rgba(255,0,0,0.6)' },
      lineStyle: { color: 'rgba(255,0,0,0.6)', width: 2.5, type: [2.5, 4] }
    },
    {
      type: 'line', name: countNames[3], xAxisIndex: 2, yAxisIndex: 2, data: pairs(predThurman),
      symbol: 'none', silent: true, itemStyle: { color: 'rgba(0,0,255,0.6)' },
      lineStyle: { color: 'rgba(0,0,255,0.6)', width: 2.5, type: [2.5, 4] }
    },
    {
      type: 'line', name: countNames[0], xAxisIndex: 2, yAxisIndex: 2, data: truthFundora,
      symbol: 'none', silent: true, itemStyle: { color: 'rgba(255,0,0,0.72)' },
      lineStyle: { color: 'rgba(255,0,0,0.72)', width: 2.5 }
    },
    {
      type: 'line', name: countNames[1], xAxisIndex: 2, yAxisIndex: 2, data: truthThurman,
      symbol: 'none', silent: true, itemStyle: { color: 'rgba(0,0,255,0.72)' },
      lineStyle: { color: 'rgba(0,0,255,0.72)', width: 2.5 }
    }
  ]
);

function timeAxis(g) {
  return {
    type: 'value', gridIndex: g, min: -48.75, max: 1023.75,
    axisLine: { show: true, onZero: false, lineStyle: { color: '#000', width: 1.2 } },
    axisTick: { show: true, length: 5, customValues: xTicks, lineStyle: { color: '#000' } },
    axisLabel: {
      show: g === 2, customValues: xTicks, fontSize: 14, color: '#000', margin: 10,
      formatter: function (v) { return String(v); }
    },
    splitLine: { show: false },
    name: g === 2 ? 'Fight time (seconds)' : '', nameLocation: 'middle', nameGap: 37,
    nameTextStyle: { fontSize: 20, color: '#000' }
  };
}

function probAxis(g) {
  return {
    type: 'value', gridIndex: g, min: 0, max: 1.15, interval: 0.05,
    name: 'Prob', nameLocation: 'middle', nameGap: 56,
    nameTextStyle: { fontSize: 13, color: '#000' },
    axisLine: { show: true, onZero: false, lineStyle: { color: '#000', width: 1.2 } },
    axisTick: { show: true, length: 5, lineStyle: { color: '#000' } },
    axisLabel: { fontSize: 14, color: '#000', margin: 9, formatter: function (v) { return v.toFixed(2); } },
    splitLine: { show: true, lineStyle: { color: '#e3e3e3', width: 1 } }
  };
}

var legendBase = {
  orient: 'horizontal', itemGap: 35, itemWidth: 27, itemHeight: 3, selectedMode: false,
  textStyle: { fontSize: 11, color: '#000' }
};
function legendItems(names) {
  return names.map(function (n) { return { name: n, icon: solidIcon }; });
}
var row1 = thresholds.filter(function (n, i) { return i % 2 === 0; });
var row2 = thresholds.filter(function (n, i) { return i % 2 === 1; });
function legendBox(top) {
  return [
    Object.assign({}, legendBase, {
      data: legendItems(row1), left: 1610, top: top, padding: [6, 8, 25, 8],
      backgroundColor: 'rgba(255,255,255,0.8)', borderColor: '#cccccc', borderWidth: 1, borderRadius: 4
    }),
    Object.assign({}, legendBase, { data: legendItems(row2), left: 1618, top: top + 25, padding: 0, z: 6 })
  ];
}

var option = {
  animation: false,
  textStyle: { fontFamily: 'DejaVu Sans' },
  title: [
    {
      text: 'SEBASTIAN FUNDORA — Power Strikes Landed R4 Over Full Fight (Event 16256)',
      left: 'center', top: 24, padding: [0, 0, 0, 70],
      textStyle: { fontSize: 19, fontWeight: 'normal', color: '#000' }
    },
    {
      text: 'KEITH THURMAN — Power Strikes Landed R4 Over Full Fight (Event 16256)',
      left: 'center', top: 552, padding: [0, 0, 0, 70],
      textStyle: { fontSize: 19, fontWeight: 'normal', color: '#000' }
    }
  ],
  legend: legendBox(58).concat(legendBox(587)).concat([{
    data: [
      { name: countNames[0], icon: solidIcon },
      { name: countNames[1], icon: solidIcon },
      { name: countNames[2], icon: dotIcon },
      { name: countNames[3], icon: dotIcon }
    ],
    orient: 'vertical', left: 100, top: 1113, itemGap: 6,
    itemWidth: 32, itemHeight: 3, selectedMode: false, padding: [7, 8, 7, 6],
    backgroundColor: 'rgba(255,255,255,0.8)', borderColor: '#cccccc', borderWidth: 1, borderRadius: 4,
    textStyle: { fontSize: 14, color: '#000' }
  }]),
  grid: [
    { left: 92, top: 52, width: 1986, height: 466, show: true, borderColor: '#000', borderWidth: 1.2 },
    { left: 92, top: 579, width: 1986, height: 467, show: true, borderColor: '#000', borderWidth: 1.2 },
    { left: 92, top: 1107, width: 1986, height: 314, show: true, borderColor: '#000', borderWidth: 1.2 }
  ],
  xAxis: [timeAxis(0), timeAxis(1), timeAxis(2)],
  yAxis: [
    probAxis(0), probAxis(1),
    {
      type: 'value', gridIndex: 2, min: -1.4, max: 29.4,
      name: 'Count', nameLocation: 'middle', nameGap: 44,
      nameTextStyle: { fontSize: 15, color: '#000' },
      axisLine: { show: true, onZero: false, lineStyle: { color: '#000', width: 1.2 } },
      axisTick: { show: true, length: 5, customValues: countTicks, lineStyle: { color: '#000' } },
      axisLabel: { customValues: countTicks, fontSize: 14, color: '#000', margin: 9 },
      splitLine: { show: true, lineStyle: { color: '#e3e3e3', width: 1 } }
    }
  ],
  series: series
};

var chart = echarts.init(document.getElementById('chart'));
chart.setOption(option);
</script>
</body>
</html>
